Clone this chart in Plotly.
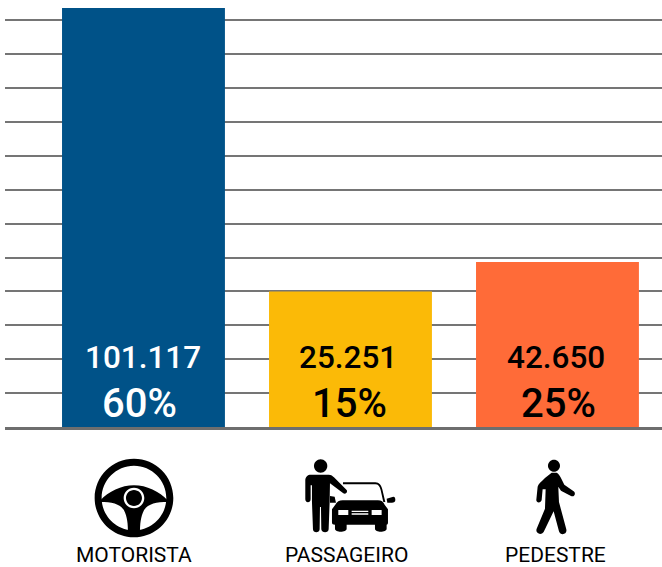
import re
import plotly.graph_objects as go

categories = ["MOTORISTA", "PASSAGEIRO", "PEDESTRE"]
bar_heights = [123600, 40000, 48700]
count_labels = ["101.117", "25.251", "42.650"]
share_labels = ["60%", "15%", "25%"]
bar_colors = ["#005288", "#FBBA07", "#FF6B38"]
text_colors = ["#FFFFFF", "#000000", "#000000"]
positions = [0, 1, 2]

FONT = "Roboto"
AXIS_PX = 427
CENTERS_PX = [143.5, 350.5, 557.5]
COUNT_NUDGE = [0, -2, -1]
SHARE_NUDGE = [-4, -1, 1]
NAME_NUDGE = [-9.5, -4, -1.5]


def circle(cx, cy, r):
    k = r * 0.5523
    return (f"M{cx-r},{cy} C{cx-r},{cy-k} {cx-k},{cy-r} {cx},{cy-r} "
            f"C{cx+k},{cy-r} {cx+r},{cy-k} {cx+r},{cy} "
            f"C{cx+r},{cy+k} {cx+k},{cy+r} {cx},{cy+r} "
            f"C{cx-k},{cy+r} {cx-r},{cy+k} {cx-r},{cy} Z ")


def to_path(path, origin, center):
    """Icon outline drawn at 3x from a crop origin -> pixels from the anchor (y up)."""
    nums = re.findall(r"[A-Za-z]|-?\d+\.?\d*", path)
    out, is_x = [], True
    for tok in nums:
        if tok.isalpha():
            out.append(tok)
            is_x = True
        elif is_x:
            out.append(f"{origin[0] + float(tok) / 3 - center:.2f}")
            is_x = False
        else:
            out.append(f"{AXIS_PX - origin[1] - float(tok) / 3:.2f}")
            is_x = True
    s = ""
    for tok in out:
        s += tok if tok.isalpha() else tok + " "
    return s


def icon(path, idx, origin, fill="#000000"):
    return dict(type="path", xref="x", yref="paper", xsizemode="pixel", ysizemode="pixel",
                xanchor=positions[idx], yanchor=0, path=to_path(path, origin, CENTERS_PX[idx]),
                fillcolor=fill, line=dict(width=0), layer="above")


W0 = (88, 452)
wheel_ring = circle(138, 138, 118) + circle(138, 138, 97)
wheel_body = ("M36,146 C62,118 100,100 138,100 C176,100 214,118 240,146 L240,150 "
              "C205,150 180,155 168,175 C158,195 156,215 156,245 L120,245 "
              "C120,215 118,195 108,175 C96,155 71,150 36,150 Z")
wheel_hub_ring = circle(138, 138, 31) + circle(138, 138, 24)

C0 = (298, 452)
person_head = circle(68, 42, 20)
person_body = ("M38,68 L92,68 C100,68 104,72 108,76 L146,114 C150,120 143,128 136,124 L96,94 L95,150 "
               "L92,232 C92,244 71,244 70,232 L69,165 L66,165 L65,232 C65,244 45,244 45,232 L42,150 L42,100 "
               "L38,100 L38,142 C38,154 22,154 22,142 L22,85 C22,74 30,68 38,68 Z")
car_roof = ("M135,91 L232,91 C244,91 250,100 253,112 L262,150 L256,150 L248,114 C245,103 241,97 232,97 "
            "L135,97 Z")
car_body = ("M112,158 C117,149 124,145 134,145 L240,145 C250,145 256,149 260,158 L270,172 L270,212 "
            "C270,216 268,218 266,218 L266,230 C266,242 231,242 231,230 L231,218 L146,218 L146,230 "
            "C146,242 111,242 111,230 L111,218 C105,218 102,216 102,212 L102,172 Z")
car_mirror_l = "M96,132 L110,134 L114,152 L96,152 Z"
car_mirror_r = "M266,140 L286,134 C291,134 292,138 292,144 C292,150 288,152 282,152 L268,152 Z"
car_lights = ("M121,174 L151,174 L151,189 L121,189 Z "
              "M221,174 L251,174 L251,189 L221,189 Z "
              "M161,176 L211,176 L211,180 L161,180 Z "
              "M161,184 L211,184 L211,188 L161,188 Z")

P0 = (525, 452)
walker_head = circle(87, 41, 18)
walker_body = ("M80,62 L95,62 C100,64 104,70 108,78 L118,98 L146,118 C154,124 148,137 138,132 L108,116 "
               "L100,104 L102,150 L124,232 C128,248 106,252 102,238 L86,178 L56,240 C48,252 28,244 36,228 "
               "L60,170 L62,112 L53,112 L50,144 C48,154 34,154 34,144 L38,104 C40,96 48,90 60,78 Z")

icon_shapes = [
    icon(wheel_ring, 0, W0),
    icon(wheel_body, 0, W0),
    icon(wheel_hub_ring, 0, W0, "#FFFFFF"),
    icon(car_roof, 1, C0),
    icon(car_body, 1, C0),
    icon(car_mirror_l, 1, C0),
    icon(car_mirror_r, 1, C0),
    icon(car_lights, 1, C0, "#FFFFFF"),
    icon(person_head, 1, C0),
    icon(person_body, 1, C0),
    icon(walker_head, 2, P0),
    icon(walker_body, 2, P0),
]

fig = go.Figure()
fig.add_bar(x=positions, y=bar_heights, width=0.787, marker=dict(color=bar_colors, line=dict(width=0)))

for i in positions:
    fig.add_annotation(x=i, y=0, xref="x", yref="y", xshift=COUNT_NUDGE[i], yshift=70, yanchor="middle",
                       showarrow=False, text=count_labels[i],
                       font=dict(family=FONT, size=31.5, weight=500, color=text_colors[i]))
    fig.add_annotation(x=i, y=0, xref="x", yref="y", xshift=SHARE_NUDGE[i], yshift=24, yanchor="middle",
                       showarrow=False, text=share_labels[i],
                       font=dict(family=FONT, size=40, weight=500, color=text_colors[i]))
    fig.add_annotation(x=i, y=0, xref="x", yref="paper", xshift=NAME_NUDGE[i], yshift=-128, yanchor="middle",
                       showarrow=False, text=categories[i],
                       font=dict(family=FONT, size=21, color="#000000"))

fig.update_layout(
    width=662, height=567, margin=dict(l=5, r=0, t=8, b=140, autoexpand=False),
    paper_bgcolor="#FFFFFF", plot_bgcolor="#FFFFFF", showlegend=False,
    font=dict(family=FONT, color="#000000"),
    shapes=icon_shapes,
    xaxis=dict(range=[-0.669, 2.505], tickvals=positions, showticklabels=False, ticks="",
               showgrid=False, zeroline=False, showline=True, linecolor="#6E6E6E", linewidth=3),
    yaxis=dict(range=[0, 123600], dtick=10000, showticklabels=False, ticks="", gridcolor="#757575",
               gridwidth=1.5, zeroline=False, showline=False),
)
fig.write_html("out.html", config=dict(displayModeBar=False),
               post_script="document.body.style.margin='0';")
